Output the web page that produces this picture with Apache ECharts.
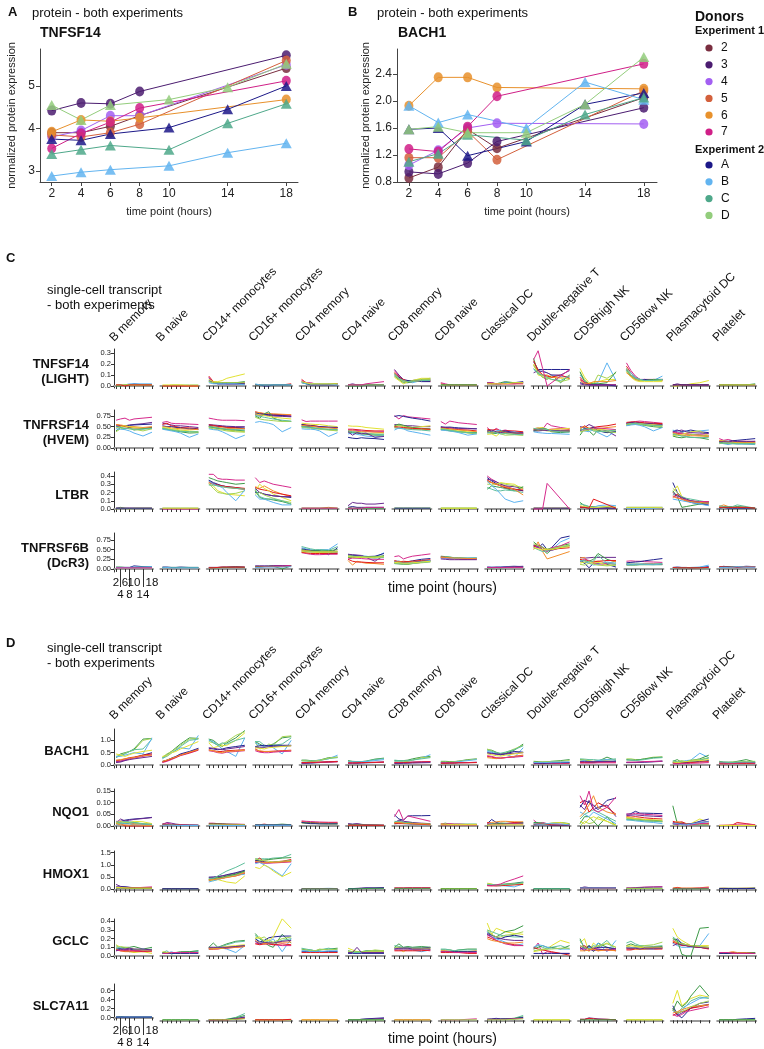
<!DOCTYPE html>
<html><head><meta charset="utf-8">
<script src="https://cdn.jsdelivr.net/npm/echarts@6/dist/echarts.min.js"></script>
<style>html,body{margin:0;padding:0;background:#fff}#c{width:764px;height:1049px}</style>
</head><body><div id="c"></div>
<script>
// ---------------- DATA ----------------
const TIMES = [2, 4, 6, 8, 10, 14, 18];
const TIME_LABELS_ROW1 = [2, 6, 10, 18];
const TIME_LABELS_ROW2 = [4, 8, 14];
const DONORS_EXP1 = ['2', '3', '4', '5', '6', '7'];
const DONORS_EXP2 = ['A', 'B', 'C', 'D'];

// Panel A: TNFSF14 protein (values at TIMES; exp1 lacks 10/14, exp2 lacks 8)
const A_TNFSF14 = {
  '2': [3.90, 3.90, 4.05, 4.30, null, null, 5.42],
  '3': [4.42, 4.60, 4.58, 4.87, null, null, 5.72],
  '4': [3.80, 3.95, 4.30, 4.30, null, null, 5.50],
  '5': [3.85, 3.80, 3.90, 4.10, null, null, 5.60],
  '6': [3.92, 4.20, 4.17, 4.25, null, null, 4.68],
  '7': [3.53, 3.88, 4.15, 4.48, null, null, 5.12],
  'A': [3.75, 3.72, 3.87, null, 4.02, 4.45, 5.00],
  'B': [2.88, 2.97, 3.03, null, 3.12, 3.43, 3.65],
  'C': [3.40, 3.50, 3.60, null, 3.50, 4.12, 4.58],
  'D': [4.55, 4.20, 4.55, null, 4.68, 4.97, 5.52]
};
// Panel B: BACH1 protein
const B_BACH1 = {
  '2': [0.86, 1.02, 1.58, 1.30, null, null, 2.05],
  '3': [0.95, 0.92, 1.08, 1.40, null, null, 1.90],
  '4': [1.05, 1.27, 1.60, 1.67, null, null, 1.66],
  '5': [1.16, 1.16, 1.55, 1.13, null, null, 2.15],
  '6': [1.93, 2.35, 2.35, 2.20, null, null, 2.18],
  '7': [1.29, 1.25, 1.62, 2.07, null, null, 2.55],
  'A': [1.58, 1.60, 1.19, null, 1.40, 1.95, 2.12],
  'B': [1.93, 1.68, 1.80, null, 1.60, 2.28, 2.02],
  'C': [1.10, 1.22, 1.50, null, 1.42, 1.80, 2.05],
  'D': [1.58, 1.62, 1.53, null, 1.53, 1.95, 2.65]
};
const A_Y_TICKS = ['3', '4', '5'];
const B_Y_TICKS = ['0.8', '1.2', '1.6', '2.0', '2.4'];

const CELL_TYPES = ['B memory', 'B naive', 'CD14+ monocytes', 'CD16+ monocytes', 'CD4 memory', 'CD4 naive',
  'CD8 memory', 'CD8 naive', 'Classical DC', 'Double-negative T', 'CD56high NK', 'CD56low NK', 'Plasmacytoid DC', 'Platelet'];

// Single-cell panels: one string per cell type; lines "colour:v2 v4 v6 v8 v10 v14 v18" (hundredths, NQO1 in thousandths; "-" = no sample)
const C_TNFSF14 = [
"n:1 1 1 1 2 1 1,b:1 1 1 2 2 2 2,g:0 0 1 1 1 1 1,y:1 1 1 1 1 1 1,r:1 1 0 1 1 1 1",
"l:0 0 1 1 1 1 1,y:1 1 1 1 1 0 0,r:0 0 0 0 0 0 0",
"r:9 4 3 3 3 3 3,m:8 3 3 3 2 2 2,p:7 3 2 2 2 2 2,n:5 3 2 2 2 2 2,g:4 3 3 3 3 3 4,l:4 3 3 3 3 3 3,b:3 2 2 2 2 2 1,y:6 4 4 5 7 9 11",
"r:1 1 1 1 1 1 2,n:1 1 0 0 1 1 1,g:1 1 1 1 1 1 1,b:2 1 1 1 1 1 1",
"r:6 3 2 2 2 2 2,m:5 3 3 2 2 2 2,n:4 2 1 1 1 1 1,g:3 2 2 2 2 2 2,b:3 2 2 2 2 2 1,y:4 3 2 2 2 2 2",
"p:1 2 1 1 1 1 1,g:0 0 0 0 1 1 1,n:1 1 1 1 1 1 1,l:1 1 1 1 1 1 1,m:1 1 1 1 2 3 4",
"p:15 10 6 5 5 6 6,m:14 9 5 4 4 5 5,r:12 8 6 4 4 5 4,b:10 7 4 4 3 5 5,g:9 6 3 3 4 6 7,y:8 5 2 4 5 7 7,n:11 8 5 5 5 4 4,l:10 6 4 4 5 6 6,o:12 7 5 4 4 5 5,t:11 7 5 4 4 5 5",
"m:3 2 1 1 1 1 1,r:2 1 1 1 1 1 1,l:1 1 1 1 1 1 1,g:1 1 1 1 1 1 1",
"n:3 3 2 2 3 3 4,b:2 2 2 2 3 3 3,g:3 2 2 3 4 3 3,r:2 2 2 2 2 2 2,m:3 3 2 2 2 2 3,y:2 2 2 2 2 3 3",
"n:22 15 15 15 15 15 15,g:25 12 8 6 10 3 10,y:20 10 9 8 8 7 7,o:18 15 10 10 8 8 9,b:15 12 14 12 10 9 8,r:23 14 10 9 8 10 7,p:12 14 13 12 10 10 14,l:19 12 8 7 6 4 6,t:16 11 10 8 6 5 9,m:24 32 16 0 - - 15",
"y:16 8 3 3 4 6 6,b:10 5 2 2 3 21 5,l:12 6 2 2 10 7 12,g:13 4 2 2 2 3 13,r:8 3 2 1 1 1 1,m:6 3 1 1 1 1 1,n:3 2 1 1 1 1 0,o:5 2 2 4 4 4 5,p:2 1 1 1 1 1 1",
"m:21 14 9 6 6 6 6,r:18 12 8 6 5 5 5,n:15 10 7 5 6 5 6,b:16 12 8 6 5 5 9,g:14 9 6 5 5 6 6,y:13 8 5 4 4 4 4,o:12 9 6 5 5 5 5,l:16 10 7 5 5 5 5,t:14 10 7 6 5 5 6",
"y:0 0 1 1 2 3 5,p:1 2 1 1 1 1 1,r:1 1 1 1 1 1 1,n:1 1 1 1 1 1 1",
"r:1 1 1 1 1 1 1,n:1 1 1 1 1 1 1,g:1 1 1 1 1 1 2,y:1 1 1 1 1 1 1"
];
const C_TNFRSF14 = [
"m:65 68 70 65 68 70 72,p:50 52 52 54 55 57 60,n:52 50 52 53 54 55 56,r:55 52 50 48 47 46 48,o:55 54 52 50 50 48 50,y:47 50 52 50 48 46 45,g:40 48 45 47 42 45 47,l:38 45 47 45 44 40 45,b:45 44 43 40 35 28 37,t:50 48 46 45 44 44 46",
"m:60 62 58 57 57 56 55,p:58 56 54 52 52 50 48,r:55 58 52 50 48 47 45,n:52 50 50 48 47 45 44,o:50 49 47 46 45 44 43,y:48 47 45 44 42 40 38,g:45 44 42 40 38 35 36,l:47 45 43 42 40 38 37,b:44 42 40 38 35 25 33,t:46 44 42 40 39 38 38",
"m:70 68 66 65 65 65 64,p:55 54 53 52 51 50 50,n:52 52 51 50 49 48 47,r:54 53 51 50 48 47 45,o:50 50 48 47 46 45 45,y:48 47 46 44 42 40 38,g:50 48 46 45 43 42 40,l:47 45 43 42 40 38 37,b:45 43 42 38 33 22 30,t:50 49 47 45 44 43 42",
"r:85 82 80 80 79 78 77,o:84 83 81 80 80 79 78,m:80 78 78 77 76 76 75,n:82 80 79 78 77 76 74,p:78 77 77 76 75 74 73,g:75 70 80 85 70 63 62,l:72 68 66 65 64 62 62,y:80 78 76 74 72 70 68,b:60 62 60 58 55 38 48,t:76 74 72 70 68 65 63",
"m:66 62 63 63 63 63 63,y:58 57 56 55 55 52 50,r:55 54 53 52 50 48 47,n:55 53 52 51 50 49 48,p:52 51 50 50 49 48 48,o:53 52 51 50 48 47 45,g:50 49 48 46 45 43 42,l:48 47 46 45 44 42 40,b:45 44 44 43 40 27 36,t:50 49 48 47 45 44 43",
"y:52 51 51 50 48 46 44,r:44 44 43 42 41 40 40,m:42 42 41 40 39 38 38,o:40 40 39 38 38 37 36,l:38 37 36 35 34 33 33,g:38 36 35 33 32 30 30,t:40 38 37 35 34 32 31,b:33 35 32 30 28 26 28,p:38 30 36 33 35 25 27,n:25 23 22 24 23 22 20",
"m:76 68 76 73 72 70 68,n:74 76 74 72 70 67 63,p:55 54 53 52 52 50 50,y:52 52 50 49 48 50 52,g:52 56 53 50 48 46 45,l:50 53 51 48 46 44 43,o:48 47 46 45 44 44 43,r:50 49 48 47 46 45 44,t:47 46 45 44 43 42 40,b:42 47 45 40 38 34 30",
"m:62 56 63 61 59 57 55,n:50 48 49 48 47 46 45,p:48 49 48 46 46 45 45,r:47 46 45 44 43 42 40,o:45 45 44 43 42 40 38,y:44 43 42 41 40 38 36,g:43 42 40 39 38 36 36,l:46 44 43 40 38 35 33,b:42 41 40 38 36 30 33,t:44 43 41 40 38 36 35",
"m:48 38 46 40 42 38 36,r:44 42 43 40 40 40 38,n:40 38 36 38 40 36 35,b:36 34 40 42 35 38 32,g:38 35 34 40 37 35 33,y:32 33 28 36 34 32 30,l:42 35 38 33 30 31 30,o:38 36 37 38 36 35 34,p:40 42 38 36 38 35 35,t:35 38 36 33 34 32 31",
"m:45 47 44 58 52 48 45,r:42 45 47 43 44 45 44,n:40 40 41 42 40 40 40,b:38 36 35 34 34 33 32,y:45 47 48 43 42 45 46,g:40 42 46 44 38 36 38,l:43 44 42 40 40 40 41,o:44 42 43 41 40 39 40,p:42 43 42 41 41 40 40,t:46 44 45 43 40 38 37",
"p:50 48 55 50 45 40 28,r:44 52 46 48 50 52 56,g:30 45 40 30 42 36 38,b:48 40 38 44 36 26 40,y:45 42 47 40 44 42 40,n:40 46 45 48 40 36 38,o:47 50 45 43 45 48 50,m:43 42 44 46 47 45 43,l:38 40 42 45 40 38 36,t:42 44 46 40 38 40 42",
"m:58 60 62 63 62 60 58,n:58 60 60 59 58 57 55,r:60 61 61 60 59 58 57,p:57 58 59 58 57 56 54,o:55 56 57 56 55 54 53,y:55 57 58 57 56 54 52,g:53 55 56 55 53 50 48,l:54 55 56 55 54 52 50,b:52 54 55 53 50 40 48,t:56 57 58 57 55 53 52",
"n:40 42 38 40 42 38 36,b:42 38 36 40 38 40 42,r:36 34 35 33 32 30 28,m:38 36 34 33 32 31 30,y:30 28 32 35 38 40 28,g:28 25 24 26 25 24 20,l:35 32 28 30 32 30 28,p:38 40 42 38 36 35 34,o:33 32 30 30 29 28 27,t:32 30 28 27 25 24 25",
"m:22 18 20 17 16 16 15,n:15 16 16 17 18 20 22,r:16 15 14 14 13 13 14,b:12 10 8 10 9 9 8,g:14 12 10 12 11 10 10,y:18 16 15 14 13 12 12,l:10 12 11 10 10 11 10,o:17 16 15 15 14 14 13,p:14 15 14 16 15 15 16,t:12 11 12 11 10 10 11"
];
const C_LTBR = [
"g:1 2 1 1 1 1 1,m:1 1 1 1 1 1 1,l:0 1 1 0 1 1 1,n:1 1 1 1 1 1 1",
"g:1 1 1 1 1 1 1,m:0 0 0 0 0 0 0,y:1 1 1 1 1 1 1",
"m:42 42 37 36 36 35 35,g:38 36 34 33 32 30 31,n:35 32 30 28 27 26 24,p:34 31 29 28 27 25 24,r:32 30 29 28 27 26 25,o:33 30 28 27 26 25 24,y:30 28 22 20 18 17 16,l:31 25 20 19 18 19 22,b:34 30 28 26 20 10 23,t:29 29 28 27 26 25 24",
"m:38 32 34 32 30 28 26,o:27 25 28 25 22 18 15,r:26 24 23 22 20 18 16,y:22 30 25 22 18 14 10,n:20 20 18 17 16 15 14,p:25 20 18 17 16 15 15,g:22 14 12 12 11 9 6,l:18 20 17 15 13 10 8,b:17 12 12 10 8 5 5,t:24 15 13 12 12 10 6",
"o:1 1 1 1 1 2 1,g:1 1 1 1 1 1 1,m:1 1 1 1 1 1 1",
"p:4 8 7 7 6 6 7,n:2 3 2 2 2 2 2,g:2 1 1 1 1 1 1,m:1 1 1 1 2 2 2",
"g:1 1 1 1 1 1 1,l:1 1 1 1 1 1 1,n:1 1 1 1 1 1 1",
"g:1 1 1 1 1 1 1,l:1 1 1 1 1 1 1,y:1 1 1 1 1 1 1",
"m:40 36 33 30 28 24 22,n:38 34 31 28 26 24 22,p:36 35 33 30 28 27 25,y:34 32 30 32 31 30 24,l:30 30 30 31 30 28 26,g:24 28 27 26 25 22 27,t:26 24 22 22 23 22 20,r:35 32 30 28 26 24 23,o:33 32 30 28 27 24 17,b:34 28 24 18 12 8 10",
"g:1 1 1 1 1 1 1,o:1 1 1 1 1 1 1,n:1 1 1 1 1 1 1,m:0 0 0 31 - - 0",
"g:8 4 3 3 2 2 2,b:3 2 2 2 4 5 4,t:6 5 3 2 2 3 2,m:3 2 2 1 1 1 1,n:2 2 1 1 1 1 1,y:4 3 2 2 2 3 2,r:2 2 1 12 - - 1",
"g:2 2 2 2 2 2 2,b:1 1 1 1 1 1 2,y:2 2 2 2 2 2 2",
"n:32 20 14 10 8 6 5,y:20 28 15 12 10 8 7,l:25 20 12 10 10 8 8,g:22 15 2 3 4 6 8,t:18 16 15 13 12 10 8,r:14 18 12 10 9 8 9,m:16 14 12 11 10 9 9,b:12 11 10 9 8 6 4,p:20 16 14 12 10 8 7,o:15 13 12 10 9 8 7",
"o:3 5 3 2 2 2 1,t:4 3 3 3 5 3 1,n:1 2 1 1 1 1 1,g:2 2 2 2 3 2 1,r:2 2 2 2 2 2 1"
];
const C_TNFRSF6B = [
"n:4 4 4 4 8 6 6,g:5 5 4 4 4 5 5,b:4 4 4 4 5 5 6,m:3 3 3 3 3 3 3",
"n:5 5 4 4 5 4 4,g:4 4 4 4 4 4 4,b:3 4 3 3 3 3 3",
"n:4 4 4 5 5 6 5,m:4 4 4 4 4 4 4,g:3 3 3 4 4 5 4,r:3 3 4 5 5 5 5",
"n:8 8 8 8 9 9 9,m:7 7 7 7 8 8 9,g:6 6 6 7 7 0 8,r:5 5 6 6 6 6 7,b:4 4 5 5 5 5 6",
"b:55 52 50 48 50 50 65,t:58 55 52 50 50 48 58,n:52 50 48 47 47 37 55,m:42 40 38 37 37 38 38,r:43 42 40 40 40 40 40,g:50 48 47 47 47 47 50,p:46 45 44 44 43 42 42,o:48 47 46 45 45 45 46,y:45 44 44 43 43 43 44,l:47 46 45 45 45 44 45",
"o:22 10 20 17 15 14 12,r:25 20 18 18 17 16 16,b:38 36 35 34 33 30 42,n:36 35 34 33 32 33 40,p:38 37 36 35 30 20 35,g:30 30 29 30 31 32 34,m:26 28 28 27 26 25 25,t:35 33 32 31 30 28 30,y:32 31 30 30 30 30 32,l:34 33 32 32 31 31 33",
"n:20 20 18 19 21 25 27,r:22 18 20 19 20 22 24,o:20 19 17 17 18 20 22,p:18 17 16 16 17 20 22,g:14 13 12 12 14 17 20,l:15 14 13 13 14 16 18,b:18 16 14 15 16 18 22,t:16 15 13 14 15 17 19,y:17 16 15 15 16 18 20,m:32 34 26 30 33 36 39",
"n:30 29 28 27 27 26 26,g:33 32 31 29 29 28 28,t:32 31 30 29 28 28 29,m:28 27 26 26 25 25 26,p:26 25 24 24 24 24 24,r:31 30 28 27 27 27 27,b:29 28 28 27 27 28 28,o:30 30 29 28 28 27 27",
"n:4 4 5 5 6 7 6,b:5 5 4 5 5 6 5,g:3 3 4 3 4 5 5,p:5 4 4 4 5 6 7,m:4 4 4 4 4 4 4",
"n:60 55 65 50 55 80 85,b:55 60 58 45 50 70 80,o:50 70 45 26 - - 45,g:70 60 50 40 50 60 65,m:60 55 50 45 55 60 70,p:62 58 55 50 48 55 60,t:55 50 45 48 52 55 60,r:58 62 55 50 - - 55,y:55 52 50 50 50 55 58,l:65 60 55 52 52 58 62",
"p:30 28 29 30 30 30 30,g:20 15 20 25 40 25 18,n:25 15 3 15 15 12 5,o:28 30 18 20 20 15 20,m:18 25 22 15 12 14 12,r:25 22 20 18 20 22 22,b:22 20 15 10 12 18 15,y:15 18 20 15 17 10 10,t:20 22 18 20 35 15 12,l:12 10 15 12 10 8 10",
"m:20 21 20 20 19 18 17,n:16 17 18 19 21 24 27,r:12 12 12 12 13 13 12,g:10 10 10 11 11 11 11,b:12 11 12 12 12 11 13,t:14 13 13 13 13 13 14",
"n:4 5 4 4 3 4 6,b:3 3 3 3 4 5 10,g:3 3 3 3 3 3 3,r:4 3 3 3 3 3 4",
"n:5 6 6 6 5 7 6,p:4 7 5 6 5 5 5,g:5 5 5 6 6 6 6,r:6 5 5 5 5 6 6,b:4 4 4 5 6 5 5"
];
const D_BACH1 = [
"g:30 45 50 55 65 105 108,l:35 40 48 55 60 100 108,t:30 38 45 55 62 65 105,b:35 35 40 45 50 45 110,y:45 40 35 42 48 55 60,n:15 15 20 25 30 40 50,r:18 20 25 30 32 40 45,m:12 15 20 25 28 35 42,p:10 12 18 22 25 30 35,o:20 22 25 28 30 38 40",
"g:30 42 55 70 85 110 108,l:32 45 55 65 80 105 108,b:25 40 50 60 70 65 120,t:28 35 48 60 75 100 105,y:35 38 50 55 65 80 95,n:15 20 28 35 45 55 68,p:12 18 25 33 42 52 65,m:10 15 22 30 38 48 60,r:13 18 25 32 40 50 62,o:15 20 27 33 40 52 63",
"g:105 100 85 75 90 110 140,l:95 90 80 85 95 120 135,y:90 70 75 78 80 100 130,b:100 95 80 65 55 35 110,t:105 90 80 90 85 100 110,n:68 65 62 65 70 75 80,p:70 68 65 62 65 70 75,r:62 58 55 55 58 60 62,m:58 55 50 48 52 55 58,o:60 58 52 50 55 57 60",
"g:95 85 75 80 85 110 115,l:92 65 70 85 80 115 118,t:95 95 80 75 80 85 110,b:90 80 75 80 70 45 100,n:75 78 80 78 80 80 80,p:70 72 72 74 75 76 78,r:65 55 55 55 56 58 60,o:62 58 55 55 55 56 58,m:58 52 50 50 52 55 56,y:70 68 65 70 72 75 78",
"g:20 20 18 18 20 30 32,b:18 16 15 17 20 25 40,t:18 18 16 16 18 26 30,l:17 17 15 16 19 28 32,n:7 7 8 9 10 13 15,p:8 8 9 10 11 12 14,m:9 9 10 10 11 12 13,r:10 10 11 11 12 13 14",
"g:18 15 14 14 16 24 28,t:15 14 13 14 15 22 26,b:12 12 12 12 14 18 22,n:7 7 7 8 9 10 12,m:8 8 9 9 10 11 12,r:9 9 9 10 10 11 12",
"g:18 18 18 20 25 32 35,b:15 15 14 15 20 28 42,l:12 12 13 15 20 30 32,t:20 18 18 18 20 25 30,n:8 8 9 10 11 12 13,m:10 10 10 11 12 13 14,r:9 9 10 10 11 12 13,p:6 6 7 7 8 9 10",
"g:15 15 14 14 16 22 25,l:12 12 12 13 16 20 24,b:10 10 10 11 14 18 22,n:8 8 8 8 9 10 11,m:9 9 9 9 10 10 11,r:7 7 8 8 9 9 10",
"g:62 60 52 45 48 60 85,l:65 58 48 42 50 65 80,t:60 55 50 48 52 62 78,b:55 52 45 40 45 30 70,n:50 48 45 42 45 55 52,p:48 46 44 44 45 48 50,r:35 32 28 28 30 35 40,o:30 28 26 28 30 35 38,m:38 35 30 28 30 32 35,y:45 42 38 36 40 45 50",
"g:15 14 12 13 15 18 22,l:12 12 14 13 15 15 18,r:5 7 5 8 6 6 7,m:10 5 8 6 7 7 8,n:8 8 7 8 9 10 10,b:10 10 11 10 12 12 13",
"g:22 20 15 10 15 32 18,t:25 24 22 22 20 22 25,l:20 20 18 15 18 20 22,b:15 18 12 15 18 22 20,n:12 12 12 12 13 14 14,r:10 10 10 12 12 12 12,m:8 8 8 8 9 9 9,p:14 14 13 13 14 15 15",
"l:25 25 22 22 25 32 33,g:22 20 20 22 25 30 32,t:20 20 18 20 22 28 30,n:10 10 10 11 12 14 16,p:10 10 11 11 12 13 15,m:12 12 12 13 14 15 16",
"b:12 10 15 18 20 48 30,g:15 22 10 12 18 25 40,l:10 15 18 12 20 22 30,t:18 12 15 10 15 20 28,n:10 8 10 10 12 15 18,r:8 6 8 8 10 12 14,m:5 5 6 6 7 8 10,y:12 10 12 14 16 18 22",
"g:15 12 12 12 15 22 12,l:12 10 10 12 12 15 15,n:8 8 8 8 9 10 10,r:5 5 5 6 6 6 6,m:10 9 8 8 8 10 8,t:12 12 10 10 12 12 12"
];
const D_NQO1 = [
"n:15 20 25 28 30 33 37,p:12 30 22 25 28 32 36,m:20 20 18 15 10 8 8,r:10 10 0 0 0 0 0,g:15 12 10 12 15 8 5,y:15 20 18 15 20 18 10,l:10 12 15 15 12 10 8,b:5 8 10 8 5 5 5,o:10 5 5 3 5 3 2,t:18 15 20 18 15 10 6",
"p:5 15 12 8 6 5 4,m:10 12 8 6 5 4 3,g:8 6 5 4 3 3 3,r:5 4 3 3 3 2 2,b:3 3 3 2 2 2 2",
"m:12 12 10 10 8 8 7,g:10 10 10 9 8 7 6,r:8 8 8 7 7 6 5,l:5 5 5 5 5 5 5,b:3 3 3 2 2 2 2",
"r:5 5 8 5 5 5 5,g:5 5 5 5 5 8 5,n:4 4 4 4 4 4 4,b:3 3 3 3 3 3 3",
"m:22 20 19 18 17 16 16,r:18 16 15 14 13 13 13,g:15 14 13 12 11 10 10,l:12 11 10 10 9 8 8,n:15 12 10 10 9 9 9",
"n:10 8 10 7 5 4 3,m:8 6 8 6 5 4 3,g:5 5 5 5 4 4 3,r:3 3 3 3 3 3 3",
"p:15 25 20 18 15 12 10,g:15 18 15 15 12 10 8,l:12 15 12 12 10 8 6,y:10 15 12 10 10 8 5,b:8 12 10 8 6 5 5,t:20 18 16 12 10 8 8,r:10 10 10 10 - - 5,o:15 15 12 10 - - 8,n:48 30 25 43 44 44 45,m:40 71 25 43 - - 20",
"g:8 12 8 8 8 8 8,m:10 8 10 8 8 6 6,r:5 5 5 5 5 5 5,y:8 8 6 6 6 6 6",
"n:10 28 15 10 10 12 15,o:12 15 18 20 20 18 18,r:15 10 8 12 10 15 12,b:8 10 5 8 10 8 12,g:5 8 10 12 12 10 12,m:10 5 8 5 8 10 8,y:3 5 5 5 5 5 5",
"m:25 10 15 10 8 8 5,g:15 15 12 10 12 15 10,n:5 5 5 5 3 3 3,y:10 10 8 8 12 15 8,r:8 10 10 8 5 5 5,b:10 8 8 10 10 8 5",
"g:10 40 40 20 0 40 0,l:0 20 10 15 40 20 0,y:20 10 30 40 30 20 5,b:60 50 40 60 50 30 10,t:30 50 60 70 60 40 20,p:90 70 110 70 80 90 40,r:100 110 60 80 100 80 50,n:80 110 100 90 70 110 120,o:40 60 90 130 80 60 50,m:130 90 150 70 60 80 125",
"n:50 53 63 55 55 54 53,m:52 50 55 52 50 48 45,r:40 38 40 38 35 32 30,o:35 32 30 30 28 25 20,g:30 28 30 28 26 24 22,l:35 32 28 25 22 20 18,b:25 25 22 20 18 15 10,y:38 35 32 30 28 26 25,t:28 26 25 24 22 20 18,p:45 46 48 46 44 42 40",
"g:87 10 15 8 5 5 5,r:20 15 18 10 8 15 10,o:10 20 12 8 5 10 8,y:5 5 5 8 10 30 15,n:10 5 8 5 8 20 30,p:15 10 10 8 10 15 20,m:10 5 8 5 5 10 12,b:8 10 5 5 8 15 18",
"r:2 2 2 5 15 10 5,m:3 3 3 4 8 8 4,o:2 3 4 3 3 3 3,y:2 2 2 2 2 2 2"
];
const D_HMOX1 = [
"p:20 12 10 8 6 5 5,n:10 10 10 8 7 6 6,m:8 8 7 6 6 8 10,r:6 6 5 5 5 5 5,g:5 5 5 4 4 4 4,y:8 7 6 5 5 5 5",
"m:3 3 3 3 3 3 3,g:2 2 2 2 2 2 2,n:2 2 2 2 2 2 2",
"n:50 50 52 55 60 68 78,p:48 50 52 55 58 66 75,r:35 40 42 45 50 55 65,m:40 42 45 48 52 60 70,y:40 35 40 35 30 25 55,b:30 35 40 45 50 58 62,l:38 40 45 48 52 60 72,g:42 45 48 50 55 62 75,o:38 40 42 45 48 55 68,t:45 45 55 65 75 90 108",
"t:125 125 125 125 128 130 143,g:120 118 120 122 124 128 130,r:115 128 112 110 112 115 122,n:118 115 112 110 110 112 118,p:110 110 108 108 110 112 115,m:112 110 108 108 108 110 112,b:105 110 100 90 80 55 105,y:90 85 100 90 75 52 70,l:125 120 118 115 112 115 118,o:115 112 110 110 110 112 115",
"b:3 3 3 3 3 4 3,m:3 3 3 3 3 3 3,g:2 2 2 2 2 2 2",
"p:3 3 4 5 6 6 7,n:3 3 3 4 5 5 6,g:2 2 2 3 3 4 4",
"m:6 6 6 7 7 7 7,r:5 5 5 5 5 5 5,g:4 4 4 4 4 4 4",
"l:3 3 3 3 3 3 3,y:3 3 3 3 3 3 3,g:2 2 2 2 2 2 2",
"g:20 18 18 20 22 25 30,n:18 16 15 15 18 22 28,y:25 22 15 18 20 22 25,b:20 18 16 15 14 10 22,l:22 20 18 16 18 20 25,r:15 14 14 15 16 18 20,t:20 20 18 18 20 22 28,m:15 15 18 22 30 42 55",
"l:3 3 3 3 3 3 3,b:3 3 3 3 3 3 3,g:2 2 2 2 2 2 2",
"p:5 10 7 6 6 6 6,n:6 6 6 6 6 6 6,m:5 5 5 5 5 6 5,g:4 4 4 4 4 4 4,r:3 3 3 3 3 3 3,b:5 5 5 5 5 5 5",
"m:6 6 7 8 9 10 11,p:5 5 6 7 8 9 9,g:3 3 3 3 3 3 3,l:4 4 4 4 4 4 4",
"o:5 8 5 5 5 6 10,r:4 6 4 4 4 4 5,m:3 4 3 3 3 5 6,g:2 2 2 2 2 2 2",
"o:4 5 4 4 4 5 5,g:4 4 4 4 4 4 5,n:3 3 3 3 3 3 4"
];
const D_GCLC = [
"y:13 10 8 5 4 5 3,t:12 8 9 8 7 6 8,g:8 9 10 10 11 8 10,n:8 8 7 8 7 7 7,b:9 10 6 5 7 8 6,o:8 6 5 5 5 6 5,r:7 6 6 6 6 5 6,m:6 7 7 7 6 6 6,l:10 11 10 9 8 7 7,p:6 8 8 9 8 8 7",
"t:4 6 2 4 4 5 6,b:3 3 5 3 3 4 5,g:4 4 4 4 5 5 6,y:5 4 4 4 3 4 4,n:3 3 3 3 3 3 3,m:3 3 4 4 4 4 4",
"g:10 15 10 12 14 17 18,t:10 10 10 11 13 16 17,n:9 9 9 9 10 11 12,m:9 9 9 10 10 11 12,y:8 8 9 10 11 12 13,b:8 9 10 9 8 4 12,r:8 8 8 9 9 10 11,l:10 9 9 9 10 11 12,o:9 9 9 9 10 10 11,p:10 10 10 10 10 11 12",
"b:20 17 14 16 20 5 20,g:26 20 16 12 10 25 15,n:20 16 18 21 22 23 23,t:24 20 18 16 15 18 20,m:15 14 14 14 13 12 12,r:14 13 14 14 13 14 13,o:18 15 14 15 15 16 16,p:17 14 16 15 15 17 18,l:22 20 22 18 16 20 22,y:20 22 17 18 22 43 32",
"g:8 7 7 6 7 8 9,t:9 8 7 6 7 9 7,l:7 7 6 6 8 7 8,n:5 5 5 5 5 5 5,b:6 6 5 5 5 6 6,r:4 4 4 4 4 4 4",
"y:9 7 5 5 5 5 5,g:6 5 5 5 6 6 6,l:5 5 5 5 5 7 6,n:3 3 3 3 3 3 3,t:4 4 4 4 4 4 4,p:4 4 10 4 4 4 4",
"g:10 14 10 11 10 11 10,t:12 11 10 10 10 10 10,n:9 9 9 9 9 9 10,y:8 8 5 8 8 8 9,b:8 8 8 8 7 5 7,m:7 7 7 7 7 7 6,r:6 6 6 6 6 6 7,l:10 10 9 9 9 9 9,p:8 9 9 9 8 8 8",
"g:7 7 7 6 7 8 8,t:8 8 7 6 7 7 7,o:6 6 5 5 5 5 6,n:5 5 5 5 5 5 5,r:4 4 4 4 4 3 3,m:5 5 5 4 4 4 4",
"y:38 25 32 30 28 26 25,g:28 24 22 25 28 30 35,t:30 28 26 24 23 22 22,n:25 22 20 20 22 24 22,b:28 22 20 18 16 12 14,r:22 20 18 16 15 13 12,m:24 22 18 16 14 12 12,p:26 24 22 20 19 18 18,o:20 18 17 16 15 15 16,l:30 25 22 22 24 25 28",
"m:8 15 2 5 4 3 3,y:5 6 7 8 12 18 15,t:10 12 10 8 10 12 8,g:8 10 12 10 10 8 12,r:10 8 7 6 5 3 1,b:10 13 12 10 9 8 8,n:3 3 3 3 3 3 3,l:6 7 8 8 8 9 9",
"y:15 20 5 15 10 15 10,g:20 8 12 5 15 10 8,t:18 10 8 12 10 18 6,b:12 8 10 8 15 5 18,n:10 6 12 8 10 10 8,m:8 8 6 10 8 6 8,r:10 12 8 8 6 8 6,p:8 10 8 6 8 7 9,o:6 6 7 8 6 7 6,l:12 10 8 10 12 14 10",
"t:15 17 14 12 12 11 12,g:12 14 12 11 10 10 11,n:10 8 10 9 10 10 10,m:8 8 9 9 8 8 9,r:7 7 8 8 8 8 8,l:12 10 10 11 12 13 16,b:10 10 9 9 8 8 10,y:11 12 11 10 10 10 10,o:9 9 8 8 8 9 9,p:9 9 9 8 9 9 9",
"y:32 22 18 15 12 12 12,b:15 12 10 10 10 12 26,t:22 18 15 13 12 11 10,n:15 20 14 12 11 10 9,m:18 15 13 12 11 10 9,r:16 14 12 12 11 10 8,o:17 15 14 13 12 11 10,p:12 14 13 12 11 10 9,l:20 16 14 13 12 11 10,g:20 18 2 0 0 32 33",
"o:3 3 4 5 4 4 4,r:3 4 3 4 3 3 3,g:4 3 3 3 3 3 4,n:3 3 3 3 3 3 3,m:4 4 4 3 3 3 3"
];
const D_SLC7A11 = [
"g:1 2 1 1 1 1 1,b:1 1 1 1 1 1 1,n:1 1 1 1 1 1 1",
"l:1 1 1 1 1 1 1,g:1 1 1 1 1 1 1",
"t:1 1 1 1 2 6 14,g:1 1 1 1 2 5 10,n:1 1 1 1 1 3 7,p:0 0 1 1 1 3 6,r:1 1 1 1 1 2 4,l:1 1 1 1 1 2 3",
"o:1 1 1 1 1 1 1,l:1 1 1 1 1 1 1,r:1 1 1 1 1 1 2",
"y:1 1 1 1 1 1 1,o:1 1 1 1 1 1 1",
"n:1 1 1 2 3 4 5,p:1 1 1 2 2 3 4,l:1 1 1 1 1 1 1,g:1 1 1 1 1 1 1",
"l:1 1 1 1 1 1 1,o:1 1 1 1 1 1 1",
"m:1 1 1 1 1 2 3,l:1 1 1 1 1 1 1",
"t:2 2 3 3 3 4 10,g:2 2 2 2 3 4 7,n:2 3 4 3 3 3 6,m:2 2 2 2 2 3 4,l:1 1 1 1 1 2 3",
"l:1 1 1 1 1 1 1,y:1 1 1 1 1 1 1",
"p:2 2 5 4 3 2 1,r:2 2 4 3 2 2 1,g:1 1 1 1 1 1 1",
"l:1 1 1 1 1 1 1,y:1 1 1 1 1 1 1",
"t:25 15 25 30 40 48 45,b:20 12 20 30 35 45 48,n:30 12 5 15 25 35 38,p:25 10 15 20 25 30 33,r:10 15 18 20 25 28 32,m:12 8 12 18 20 24 28,o:15 18 22 25 28 30 32,l:22 15 18 22 28 35 40,y:35 62 30 38 45 52 48,g:20 40 28 35 50 72 50",
"n:1 1 1 1 2 3 4,l:1 1 1 1 1 1 1,g:1 1 1 1 1 1 1"
];
const TICKS_TNFSF14 = ['0.0', '0.1', '0.2', '0.3'];
const TICKS_TNFRSF14 = ['0.00', '0.25', '0.50', '0.75'];
const TICKS_LTBR = ['0.0', '0.1', '0.2', '0.3', '0.4'];
const TICKS_TNFRSF6B = ['0.00', '0.25', '0.50', '0.75'];
const TICKS_BACH1 = ['0.0', '0.5', '1.0'];
const TICKS_NQO1 = ['0.00', '0.05', '0.10', '0.15'];
const TICKS_HMOX1 = ['0.0', '0.5', '1.0', '1.5'];
const TICKS_GCLC = ['0.0', '0.1', '0.2', '0.3', '0.4'];
const TICKS_SLC7A11 = ['0.0', '0.2', '0.4', '0.6'];

// ---------------- STYLE / LAYOUT ----------------
const DONOR_COLOR = { '2': '#7a2e40', '3': '#4b1c70', '4': '#a35ff2', '5': '#d3603c', '6': '#e8912c', '7': '#d01f87',
  'A': '#1c1888', 'B': '#62b4f0', 'C': '#4ea88a', 'D': '#93cd7c' };
const PAL = { r: '#e31a1c', m: '#d62a8c', o: '#f28e2b', y: '#e2e232', l: '#a6d454', g: '#3d9a48', t: '#5fbf9c', b: '#5cb3f0', n: '#23238f', p: '#6a2b90' };
const FONT = 'Liberation Sans, Arial, sans-serif';

const ROWS = [
  { panel: 'C', label: 'TNFSF14\n(LIGHT)', data: C_TNFSF14, unit: 100, ticks: TICKS_TNFSF14, top: 349, bottom: 388, min: -0.018, max: 0.336 },
  { panel: 'C', label: 'TNFRSF14\n(HVEM)', data: C_TNFRSF14, unit: 100, ticks: TICKS_TNFRSF14, top: 410, bottom: 450, min: -0.047, max: 0.89 },
  { panel: 'C', label: 'LTBR', data: C_LTBR, unit: 100, ticks: TICKS_LTBR, top: 472, bottom: 512, min: -0.036, max: 0.448 },
  { panel: 'C', label: 'TNFRSF6B\n(DcR3)', data: C_TNFRSF6B, unit: 100, ticks: TICKS_TNFRSF6B, top: 533, bottom: 572, min: -0.078, max: 0.93, last: true },
  { panel: 'D', label: 'BACH1', data: D_BACH1, unit: 100, ticks: TICKS_BACH1, top: 729, bottom: 768, min: -0.12, max: 1.46 },
  { panel: 'D', label: 'NQO1', data: D_NQO1, unit: 1000, ticks: TICKS_NQO1, top: 789, bottom: 829, min: -0.013, max: 0.159 },
  { panel: 'D', label: 'HMOX1', data: D_HMOX1, unit: 100, ticks: TICKS_HMOX1, top: 851, bottom: 892, min: -0.11, max: 1.57 },
  { panel: 'D', label: 'GCLC', data: D_GCLC, unit: 100, ticks: TICKS_GCLC, top: 919, bottom: 958, min: -0.023, max: 0.427 },
  { panel: 'D', label: 'SLC7A11', data: D_SLC7A11, unit: 100, ticks: TICKS_SLC7A11, top: 984, bottom: 1023, min: -0.056, max: 0.75, last: true }
];

const grids = [], xAxes = [], yAxes = [], series = [], graphics = [];

function txt(x, y, s, size, weight, align) {
  graphics.push({ type: 'text', x: x, y: y, silent: true,
    style: { text: s, fill: '#111', font: (weight || 'normal') + ' ' + size + 'px ' + FONT, align: align || 'left', verticalAlign: 'middle' } });
}

// ---- protein panels ----
function proteinPanel(box, xr, yr, yTickLabels, data) {
  const gi = grids.length;
  grids.push({ left: box[0], top: box[1], width: box[2], height: box[3] });
  xAxes.push({ gridIndex: gi, type: 'value', min: xr[0], max: xr[1],
    name: 'time point (hours)', nameLocation: 'middle', nameGap: 24, nameTextStyle: { fontSize: 11, color: '#222', fontFamily: FONT },
    axisLine: { lineStyle: { color: '#444', width: 1 } },
    axisTick: { customValues: TIMES, length: 4, lineStyle: { color: '#444' } },
    axisLabel: { customValues: TIMES, fontSize: 12, color: '#222', margin: 6, fontFamily: FONT, showMinLabel: true, showMaxLabel: true },
    splitLine: { show: false } });
  const yv = yTickLabels.map(Number);
  yAxes.push({ gridIndex: gi, type: 'value', min: yr[0], max: yr[1],
    name: 'normalized protein expression', nameLocation: 'middle', nameGap: 23, nameTextStyle: { fontSize: 11, color: '#222', fontFamily: FONT },
    axisLine: { show: true, lineStyle: { color: '#444', width: 1 } },
    axisTick: { show: true, customValues: yv, length: 4, lineStyle: { color: '#444' } },
    axisLabel: { customValues: yv, fontSize: 12, color: '#222', margin: 5, fontFamily: FONT, showMinLabel: true, showMaxLabel: true,
      formatter: v => yTickLabels[yv.findIndex(t => Math.abs(t - v) < 1e-9)] || '' },
    splitLine: { show: false } });
  const xi = xAxes.length - 1, yi = yAxes.length - 1;
  DONORS_EXP1.concat(DONORS_EXP2).forEach(d => {
    const exp2 = DONORS_EXP2.includes(d);
    series.push({ type: 'line', xAxisIndex: xi, yAxisIndex: yi, name: d, silent: true,
      data: TIMES.map((t, k) => [t, data[d][k]]).filter(p => p[1] !== null),
      symbol: exp2 ? 'triangle' : 'circle', symbolSize: exp2 ? [11, 10] : [9, 10], showSymbol: true,
      lineStyle: { color: DONOR_COLOR[d], width: 1 }, itemStyle: { color: DONOR_COLOR[d], opacity: 0.85 } });
  });
}
proteinPanel([40, 49, 258, 133], [1.2, 18.8], [2.74, 5.87], A_Y_TICKS, A_TNFSF14);
proteinPanel([397, 49, 260, 133], [1.19, 18.9], [0.8, 2.77], B_Y_TICKS, B_BACH1);

txt(8, 12, 'A', 13, 'bold');
txt(32, 13, 'protein - both experiments', 13);
txt(40, 33, 'TNFSF14', 14, 'bold');
txt(348, 12, 'B', 13, 'bold');
txt(377, 13, 'protein - both experiments', 13);
txt(398, 33, 'BACH1', 14, 'bold');

// legend
txt(695, 17, 'Donors', 14, 'bold');
txt(695, 31, 'Experiment 1', 11, 'bold');
DONORS_EXP1.forEach((d, k) => {
  graphics.push({ type: 'circle', silent: true, shape: { cx: 709, cy: 48 + 16.8 * k, r: 3.6 }, style: { fill: DONOR_COLOR[d] } });
  txt(721, 48 + 16.8 * k, d, 12);
});
txt(695, 150, 'Experiment 2', 11, 'bold');
DONORS_EXP2.forEach((d, k) => {
  graphics.push({ type: 'circle', silent: true, shape: { cx: 709, cy: 165 + 16.8 * k, r: 3.6 }, style: { fill: DONOR_COLOR[d] } });
  txt(721, 165 + 16.8 * k, d, 12);
});

// ---- single-cell panels ----
txt(6, 258, 'C', 13, 'bold');
txt(47, 290, 'single-cell transcript', 13);
txt(47, 305, '- both experiments', 13);
txt(6, 643, 'D', 13, 'bold');
txt(47, 648, 'single-cell transcript', 13);
txt(47, 663, '- both experiments', 13);

const COL0 = 114, COLSTEP = 46.4, COLW = 39;
CELL_TYPES.forEach((ct, i) => {
  const x = COL0 + COLSTEP * i + 2;
  [344, 722].forEach(y => {
    graphics.push({ type: 'text', x: x, y: y, rotation: Math.PI / 4, silent: true,
      style: { text: ct, fill: '#111', font: '12px ' + FONT, align: 'left', verticalAlign: 'bottom' } });
  });
});

function parseCell(str, unit) {
  return str.split(',').map(seg => {
    const [c, vals] = seg.split(':');
    const nums = vals.trim().split(/\s+/).map(v => v === '-' ? null : Number(v) / unit);
    return { color: PAL[c], values: nums };
  });
}

ROWS.forEach(row => {
  const yv = row.ticks.map(Number);
  graphics.push({ type: 'text', x: 89, y: (row.top + row.bottom) / 2 + 3, silent: true,
    style: { text: row.label, fill: '#111', font: 'bold 13px ' + FONT, align: 'right', verticalAlign: 'middle', lineHeight: 15 } });
  row.data.forEach((cellStr, i) => {
    const gi = grids.length;
    grids.push({ left: COL0 + COLSTEP * i, top: row.top, width: COLW, height: row.bottom - row.top });
    const first = i === 0, labelled = first && row.last;
    xAxes.push({ gridIndex: gi, type: 'value', min: 1.1, max: 18.45,
      axisLine: { lineStyle: { color: '#999', width: 2 } },
      axisTick: { customValues: TIMES, length: 3, lineStyle: { color: '#333', width: 1 } },
      axisLabel: labelled ? { customValues: TIME_LABELS_ROW1, fontSize: 11.5, color: '#111', margin: 5, fontFamily: FONT,
        showMinLabel: true, showMaxLabel: true } : { show: false },
      splitLine: { show: false } });
    const xi = xAxes.length - 1;
    if (labelled) {
      xAxes.push({ gridIndex: gi, type: 'value', min: 1.1, max: 18.45, position: 'bottom',
        axisLine: { show: false }, axisTick: { customValues: TIME_LABELS_ROW2, length: 15, lineStyle: { color: '#333' } },
        axisLabel: { customValues: TIME_LABELS_ROW2, fontSize: 11.5, color: '#111', margin: 17, fontFamily: FONT,
          showMinLabel: true, showMaxLabel: true },
        splitLine: { show: false } });
    }
    yAxes.push({ gridIndex: gi, type: 'value', min: row.min, max: row.max, show: first,
      axisLine: { show: true, lineStyle: { color: '#333', width: 1 } },
      axisTick: { show: true, customValues: yv, length: 3, lineStyle: { color: '#333' } },
      axisLabel: { customValues: yv, fontSize: 7.5, color: '#222', margin: 3, fontFamily: FONT, showMinLabel: true, showMaxLabel: true,
        formatter: v => row.ticks[yv.findIndex(t => Math.abs(t - v) < 1e-9)] || '' },
      splitLine: { show: false } });
    const yi = yAxes.length - 1;
    parseCell(cellStr, row.unit).forEach(line => {
      series.push({ type: 'line', xAxisIndex: xi, yAxisIndex: yi, silent: true, showSymbol: false, symbol: 'none',
        connectNulls: true,
        data: TIMES.map((t, k) => [t, line.values[k]]).filter(p => p[1] !== null),
        lineStyle: { color: line.color, width: 1 } });
    });
  });
  if (row.last) txt(388, row.panel === 'C' ? 588 : 1039, 'time point (hours)', 14);
});

const chart = echarts.init(document.getElementById('c'), null, { renderer: 'canvas', width: 764, height: 1049 });
chart.setOption({ animation: false, backgroundColor: '#fff', grid: grids, xAxis: xAxes, yAxis: yAxes, series: series, graphic: graphics });
</script></body></html>
